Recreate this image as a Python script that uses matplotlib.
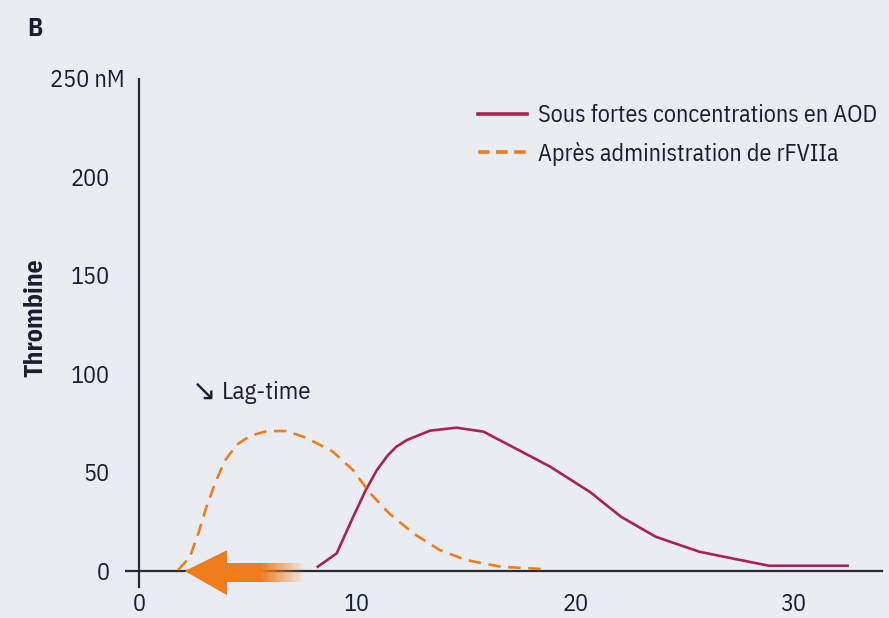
import numpy as np
import matplotlib
matplotlib.use('Agg')
import matplotlib.pyplot as plt
from matplotlib.lines import Line2D
from matplotlib.transforms import ScaledTranslation

# Data (time in min, thrombin in nM)
aod_x = [8.2, 9.07, 9.83, 10.4, 10.9, 11.4, 11.8, 12.3, 13.35, 14.57, 15.8, 17.3, 18.85, 20.7, 22.1, 23.7, 25.7, 27.4, 28.9, 30.5, 32.5]
aod_y = [2.2, 9, 27.6, 41, 51, 58.5, 63, 66.5, 71.2, 72.7, 70.7, 62, 53, 40, 27.6, 17.4, 9.8, 6, 2.7, 2.7, 2.7]
rf_x = [1.8, 2.34, 2.72, 3.1, 3.49, 3.94, 4.48, 5.09, 5.86, 6.77, 7.69, 8.9, 9.83, 10.6, 11.5, 12.6, 13.8, 15.0, 16.6, 18.7]
rf_y = [0.5, 7.3, 19, 32.6, 44.5, 56, 64, 68.5, 71, 71, 67.5, 60.5, 51, 39.5, 29, 19, 10.6, 5.6, 2.2, 0.9]

y_ticks = [0, 50, 100, 150, 200, 250]
y_labels = ['0', '50', '100', '150', '200', '250 nM']
x_ticks = [0, 10, 20, 30]

bg = '#e9edf3'
red = '#a8234e'
orange = '#ef7d1a'
txt = '#1c1c30'

plt.rcParams['font.family'] = ['IBM Plex Sans Condensed', 'DejaVu Sans']

fig = plt.figure(figsize=(8.89, 6.18), dpi=100, facecolor=bg)
ax = fig.add_axes([125 / 889, 28 / 618, 764 / 889, 512 / 618])
ax.set_facecolor(bg)
ax.set_xlim(-0.64, 34.4)
ax.set_ylim(-9.6, 250)
for s in ax.spines.values():
    s.set_visible(False)

# axes through the origin
ax.plot([-0.64, 34.1], [0, 0], color='#2a2a2a', lw=1.6, zorder=2)
ax.plot([0, 0], [-8, 250], color='#2a2a2a', lw=1.6, zorder=2)

# big orange arrow (shorter lag-time)
ax.fill([2.1, 4.04, 4.04], [0, 10.6, -12.2], color=orange, lw=0, zorder=3, clip_on=False)
ax.fill([4.0, 5.6, 5.6, 4.0], [4, 4, -5.6, -5.6], color=orange, lw=0, zorder=3, clip_on=False)
fade = np.linspace(5.55, 7.6, 40)
for i in range(len(fade) - 1):
    a = 1 - i / (len(fade) - 1)
    ax.fill([fade[i], fade[i + 1], fade[i + 1], fade[i]], [4, 4, -5.6, -5.6],
            color=orange, alpha=a, lw=0, zorder=3)

ax.plot(aod_x, aod_y, color=red, lw=1.9, zorder=4, solid_joinstyle='round')
ax.plot(rf_x, rf_y, color=orange, lw=1.9, ls=(0, (4.7, 2.9)), zorder=4)

ax.set_yticks(y_ticks)
ax.set_yticklabels(y_labels)
ax.set_xticks(x_ticks)
ax.tick_params(length=0, labelsize=17.5, colors=txt)
ax.tick_params(axis='y', pad=11)
ax.tick_params(axis='x', pad=2)
# "250 nM" sticks out to the right of the other labels
top_lab = ax.get_yticklabels()[-1]
top_lab.set_transform(top_lab.get_transform() + ScaledTranslation(0.15, 0, fig.dpi_scale_trans))

ax.text(2.45, 91, '\u2198', fontsize=21, color=txt, ha='left', va='center', family='DejaVu Sans')
ax.text(3.8, 90.4, 'Lag-time', fontsize=18, color=txt, ha='left', va='center')

fig.text(35 / 889, 1 - 318 / 618, 'Thrombine', rotation=90, fontsize=18.5, fontweight='bold',
         color=txt, ha='center', va='center')
fig.text(35 / 889, 1 - 29 / 618, 'B', fontsize=18, fontweight='bold', color=txt,
         ha='center', va='center')

handles = [Line2D([], [], color=red, lw=2.6),
           Line2D([], [], color=orange, lw=2.6, ls=(0, (3.2, 1.8)))]
ax.legend(handles, ['Sous fortes concentrations en AOD', 'Apr\u00e8s administration de rFVIIa'],
          loc='upper left', bbox_to_anchor=(478 / 889, 1 - 104 / 618), bbox_transform=fig.transFigure,
          frameon=False, fontsize=17.3, handlelength=2.05, handletextpad=0.45, labelspacing=0.6,
          borderaxespad=0.0, borderpad=0.0, labelcolor=txt)

fig.savefig('out.png', dpi=100, facecolor=bg)
